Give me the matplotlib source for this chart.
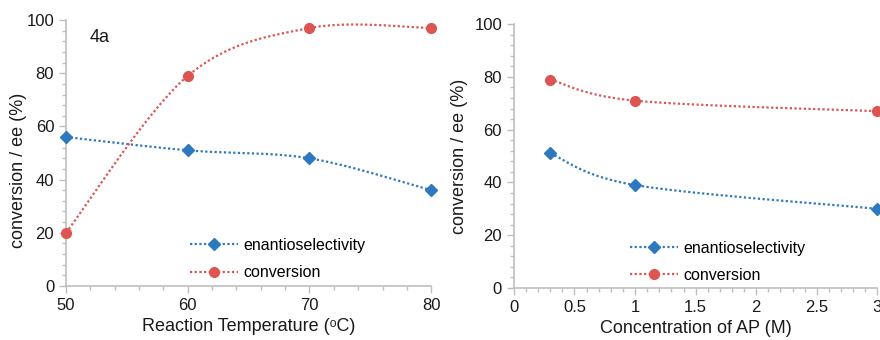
import numpy as np
import matplotlib
matplotlib.use("Agg")
import matplotlib.pyplot as plt
from matplotlib.ticker import MultipleLocator, FuncFormatter

plt.rcParams['font.family'] = ['Liberation Sans', 'DejaVu Sans']

# Data
temp = [50, 60, 70, 80]
temp_ee = [56, 51, 48, 36]
temp_conv = [20, 79, 97, 97]

conc = [0.3, 1, 3]
conc_ee = [51, 39, 30]
conc_conv = [79, 71, 67]

BLUE = "#2E78C0"
RED = "#DC5553"
GRAY = "#BFBFBF"
TXT = "#1a1a1a"
LW = 1.6
DASH = (1.0, 1.1)
MS_D = 6.2
MS_O = 7.0


def smooth(x, y, n=60):
    """Excel-like smoothed line (cubic Bezier with Catmull-Rom control points)."""
    P = np.column_stack([x, y]).astype(float)
    m = len(P)
    out = []
    for i in range(m - 1):
        p0 = P[i - 1] if i > 0 else P[i]
        p1 = P[i]
        p2 = P[i + 1]
        p3 = P[i + 2] if i + 2 < m else P[i + 1]
        c1 = p1 + (p2 - p0) / 6.0
        c2 = p2 - (p3 - p1) / 6.0
        t = np.linspace(0, 1, n)[:, None]
        seg = ((1 - t) ** 3) * p1 + 3 * ((1 - t) ** 2) * t * c1 + 3 * (1 - t) * t ** 2 * c2 + t ** 3 * p2
        out.append(seg if i == 0 else seg[1:])
    S = np.vstack(out)
    return S[:, 0], S[:, 1]


def style(ax):
    for s in ['top', 'right']:
        ax.spines[s].set_visible(False)
    for s in ['left', 'bottom']:
        ax.spines[s].set_color(GRAY)
        ax.spines[s].set_linewidth(1.2)
    ax.tick_params(which='both', direction='out', color=GRAY, width=1, labelsize=12, labelcolor=TXT)
    ax.tick_params(which='major', length=5)
    ax.tick_params(which='minor', length=3)
    ax.set_ylim(0, 100)
    ax.yaxis.set_major_locator(MultipleLocator(20))
    ax.yaxis.set_minor_locator(MultipleLocator(4))
    ax.set_ylabel("conversion / ee (%)", fontsize=13, color=TXT)


def draw(ax, x, ee, conv):
    sx, sy = smooth(x, ee)
    ax.plot(sx, sy, ls=(0, DASH), lw=LW, color=BLUE, clip_on=False)
    ax.plot(x, ee, ls='none', marker='D', ms=MS_D, color=BLUE, clip_on=False, zorder=5)
    cx, cy = smooth(x, conv)
    ax.plot(cx, cy, ls=(0, DASH), lw=LW, color=RED, clip_on=False)
    ax.plot(x, conv, ls='none', marker='o', ms=MS_O, color=RED, clip_on=False, zorder=5)
    h1, = ax.plot([], [], ls=(0, DASH), lw=LW, color=BLUE, marker='D', ms=MS_D, label='enantioselectivity')
    h2, = ax.plot([], [], ls=(0, DASH), lw=LW, color=RED, marker='o', ms=MS_O, label='conversion')
    return [h1, h2]


fig = plt.figure(figsize=(8.8, 3.4), dpi=100)
ax1 = fig.add_axes([0.075, 0.159, 0.415, 0.782])
ax2 = fig.add_axes([0.584, 0.153, 0.413, 0.776])

style(ax1)
h = draw(ax1, temp, temp_ee, temp_conv)
ax1.set_xlim(50, 80)
ax1.xaxis.set_major_locator(MultipleLocator(10))
ax1.xaxis.set_minor_locator(MultipleLocator(2))
ax1.set_xlabel("Reaction Temperature (\u1d52C)", fontsize=13, color=TXT, labelpad=4)
ax1.yaxis.set_label_coords(-0.107, 0.434)
ax1.text(52.8, 93.6, "4a", fontsize=13, ha='center', va='center', color=TXT)
ax1.legend(handles=h, loc='center left', bbox_to_anchor=(190 / 880, 1 - 259 / 340),
           bbox_transform=fig.transFigure, borderaxespad=0, borderpad=0, frameon=False,
           fontsize=11.5, handlelength=3.0, handletextpad=0.35, labelspacing=0.8)

style(ax2)
h = draw(ax2, conc, conc_ee, conc_conv)
ax2.set_xlim(0, 3)
ax2.xaxis.set_major_locator(MultipleLocator(0.5))
ax2.xaxis.set_minor_locator(MultipleLocator(0.1))
ax2.xaxis.set_major_formatter(FuncFormatter(lambda v, p: '%g' % v))
ax2.set_xlabel("Concentration of AP (M)", fontsize=13, color=TXT, labelpad=4)
ax2.yaxis.set_label_coords(-0.127, 0.5)
ax2.legend(handles=h, loc='center left', bbox_to_anchor=(630 / 880, 1 - 262 / 340),
           bbox_transform=fig.transFigure, borderaxespad=0, borderpad=0, frameon=False,
           fontsize=11.5, handlelength=3.0, handletextpad=0.35, labelspacing=0.75)

fig.savefig("out.png", dpi=100)
